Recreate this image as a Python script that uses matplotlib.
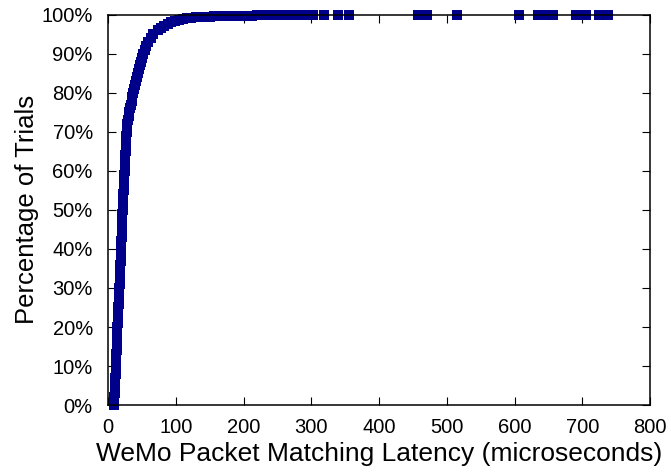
"""CDF of WeMo packet matching latency."""

import matplotlib

matplotlib.use("Agg")
import matplotlib.pyplot as plt
from matplotlib.ticker import FuncFormatter, MultipleLocator

plt.rcParams["font.family"] = ["Liberation Sans", "DejaVu Sans"]

# latency (microseconds), with the matching CDF percentage
LATENCY_US = [
    8.5, 9.0, 9.4, 9.8, 10.1, 10.4, 10.7, 11.0, 11.2, 11.4,
    11.6, 11.8, 12.0, 12.3, 12.5, 12.8, 13.0, 13.2, 13.5, 13.7,
    13.9, 14.2, 14.5, 14.8, 15.1, 15.3, 15.6, 15.9, 16.2, 16.4,
    16.7, 17.0, 17.2, 17.5, 17.7, 18.0, 18.3, 18.5, 18.8, 19.0,
    19.3, 19.5, 19.7, 19.9, 20.1, 20.4, 20.6, 20.8, 21.0, 21.2,
    21.5, 21.8, 22.0, 22.3, 22.6, 22.9, 23.2, 23.5, 23.8, 24.1,
    24.4, 24.7, 25.0, 25.3, 25.6, 25.9, 26.2, 26.5, 26.9, 27.2,
    27.6, 28.1, 28.7, 29.5, 30.5, 31.6, 32.6, 33.6, 34.8, 36.0,
    37.3, 38.6, 40.0, 41.4, 42.9, 44.4, 45.8, 47.2, 48.6, 50.1,
    51.8, 54.0, 56.5, 59.5, 63.0, 67.0,
    73, 78, 83, 88, 93, 99, 105, 111, 117, 123, 130, 136, 143, 150,
    157, 164, 171, 178, 185, 192, 199, 206, 213, 220, 227, 234, 241,
    248, 255, 262, 269, 276, 283, 290, 297, 302,
    318, 339, 355, 457, 461, 466, 471, 515, 607, 635, 640, 645, 650,
    654, 656, 690, 695, 700, 705, 724, 729, 734, 738,
]
PERCENT = [
    0, 1, 2, 3, 4, 5, 6, 7, 8, 9,
    10, 11, 12, 13, 14, 15, 16, 17, 18, 19,
    20, 21, 22, 23, 24, 25, 26, 27, 28, 29,
    30, 31, 32, 33, 34, 35, 36, 37, 38, 39,
    40, 41, 42, 43, 44, 45, 46, 47, 48, 49,
    50, 51, 52, 53, 54, 55, 56, 57, 58, 59,
    60, 61, 62, 63, 64, 65, 66, 67, 68, 69,
    70, 71, 72, 73, 74, 75, 76, 77, 78, 79,
    80, 81, 82, 83, 84, 85, 86, 87, 88, 89,
    90, 91, 92, 93, 94, 95,
    96.0, 96.5, 97.0, 97.6, 98.1, 98.4, 98.7, 98.9, 99.05, 99.15, 99.3,
    99.4, 99.5, 99.55, 99.6, 99.63, 99.66, 99.69, 99.72, 99.74, 99.76,
    99.78, 99.8, 99.82, 99.84, 99.86, 99.88, 99.9, 99.92, 99.94, 99.95,
    99.96, 99.97, 99.98, 99.99, 100,
    100, 100, 100, 100, 100, 100, 100, 100, 100, 100, 100, 100, 100,
    100, 100, 100, 100, 100, 100, 100, 100, 100, 100,
]

fig = plt.figure(figsize=(6.71, 4.76), dpi=100)
ax = fig.add_axes([0.161, 0.149, 0.808, 0.820])

ax.plot(LATENCY_US, PERCENT, linestyle="none", marker="s", markersize=7.8,
        markeredgewidth=0, color="#00008b", clip_on=False)

ax.set_xlim(0, 800)
ax.set_ylim(0, 100)
ax.xaxis.set_major_locator(MultipleLocator(100))
ax.yaxis.set_major_locator(MultipleLocator(10))
ax.yaxis.set_major_formatter(FuncFormatter(lambda v, _: f"{v:.0f}%"))

ax.tick_params(direction="in", length=6, width=0.8, top=True, right=True,
               labelsize=14.5)
ax.tick_params(axis="x", pad=9)
ax.tick_params(axis="y", pad=11)
for spine in ax.spines.values():
    spine.set_linewidth(1.1)

ax.set_xlabel("WeMo Packet Matching Latency (microseconds)", fontsize=19,
              labelpad=4)
ax.set_ylabel("Percentage of Trials", fontsize=18.5, labelpad=2)

fig.savefig("out.png", dpi=100)
